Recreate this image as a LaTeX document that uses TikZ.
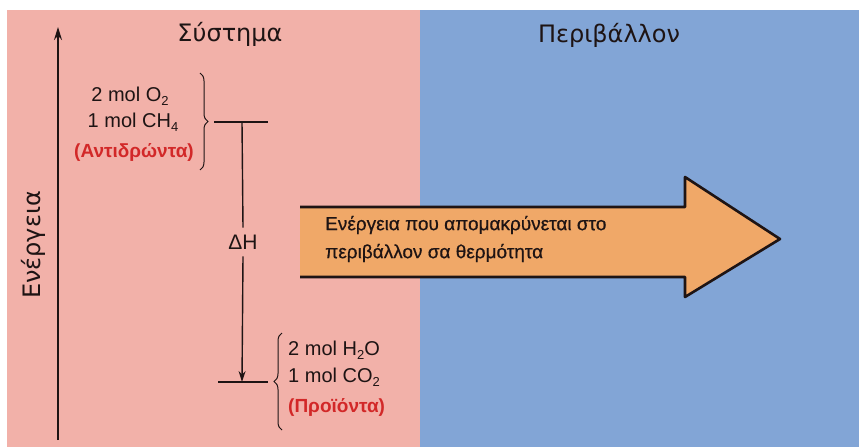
\documentclass[tikz,border=0pt]{standalone}
\usepackage{fontspec}
\setmainfont{Liberation Sans}
\newfontfamily\titlefont{DejaVu Sans}
\newfontfamily\heatfont[FakeBold=0.6]{Liberation Sans}
\usetikzlibrary{arrows.meta,decorations.pathreplacing}
\definecolor{pinkbg}{RGB}{242,177,169}
\definecolor{bluebg}{RGB}{130,165,214}
\definecolor{orangefill}{RGB}{240,168,104}
\definecolor{redtxt}{RGB}{210,40,40}
\definecolor{ink}{RGB}{30,20,20}
\newcommand{\lowidx}[1]{\raisebox{-0.35ex}{\fontsize{13}{13}\selectfont #1}}
\begin{document}
\begin{tikzpicture}[x=1pt,y=-1pt,
  title/.style={font=\titlefont\fontsize{24}{28}\selectfont, text=ink, inner sep=0pt},
  chem/.style={font=\fontsize{20}{24}\selectfont, text=ink, inner sep=0pt},
  redlab/.style={font=\bfseries\fontsize{19}{22}\selectfont, text=redtxt, inner sep=0pt},
  level/.style={draw=ink, line width=1.6pt},
  bracestyle/.style={draw=ink, line width=1pt, decorate, decoration={brace, amplitude=8pt}},
  arrowtxt/.style={font=\heatfont\fontsize{19}{28}\selectfont, text=ink, inner sep=0pt, align=left}]
\useasboundingbox (0,0) rectangle (859,447);
\fill[white] (0,0) rectangle (859,447);
\fill[pinkbg] (7,10) rectangle (420,447);
\fill[bluebg] (420,10) rectangle (859,447);

% energy axis
\coordinate (axb) at (58,440);
\coordinate (axt) at (58,27);
\draw[draw=ink, line width=1.6pt, -{Stealth[length=13pt,width=8pt]}] (axb) -- (axt);
\node[title, rotate=90] (energy) at (33,245) {Ενέργεια};

\node[title] (sys) at (230,34) {Σύστημα};
\node[title] (env) at (609,35) {Περιβάλλον};

% reactants
\node[chem] (r1) at (130,96) {2 mol O\lowidx{2}};
\node[chem] (r2) at (133,122) {1 mol CH\lowidx{4}};
\node[redlab] (r3) at (134,152) {(Αντιδρώντα)};
\coordinate (rbt) at (200,73);
\coordinate (rbb) at (200,170);
\draw[bracestyle] (rbt) -- (rbb);

% levels
\coordinate (rl) at (214,122);
\coordinate (rr) at (268,122);
\coordinate (pl) at (218,382);
\coordinate (pr) at (268,382);
\draw[level] (rl) -- (rr);
\draw[level] (pl) -- (pr);
\coordinate (rtop) at (242,122);
\coordinate (pbot) at (242,382);
\node[font=\fontsize{21}{24}\selectfont, text=ink, inner sep=7pt] (dh) at (243,242) {ΔΗ};
\draw[draw=ink, line width=1.4pt] (rtop) -- (dh.north);
\draw[draw=ink, line width=1.4pt, -{Stealth[length=11pt,width=7pt]}] (dh.south) -- (pbot);

% products
\coordinate (pbb) at (282,430);
\coordinate (pbt) at (282,333);
\draw[bracestyle] (pbb) -- (pbt);
\node[chem, anchor=west] (p1) at (288,350) {2 mol H\lowidx{2}O};
\node[chem, anchor=west] (p2) at (288,377) {1 mol CO\lowidx{2}};
\node[redlab, anchor=west] (p3) at (288,407) {(Προϊόντα)};

% big arrow
\coordinate (a1) at (300,207);
\coordinate (a2) at (685,207);
\coordinate (a3) at (685,177);
\coordinate (a4) at (780,239);
\coordinate (a5) at (685,297);
\coordinate (a6) at (685,277);
\coordinate (a7) at (300,277);
\fill[orangefill] (a1) -- (a2) -- (a3) -- (a4) -- (a5) -- (a6) -- (a7) -- cycle;
\draw[draw=ink, line width=2.6pt, line join=round] (a1) -- (a2) -- (a3) -- (a4) -- (a5) -- (a6) -- (a7);
\node[arrowtxt, anchor=west] (heat) at (325,239) {Ενέργεια που απομακρύνεται στο\\περιβάλλον σα θερμότητα};
\end{tikzpicture}
\end{document}
